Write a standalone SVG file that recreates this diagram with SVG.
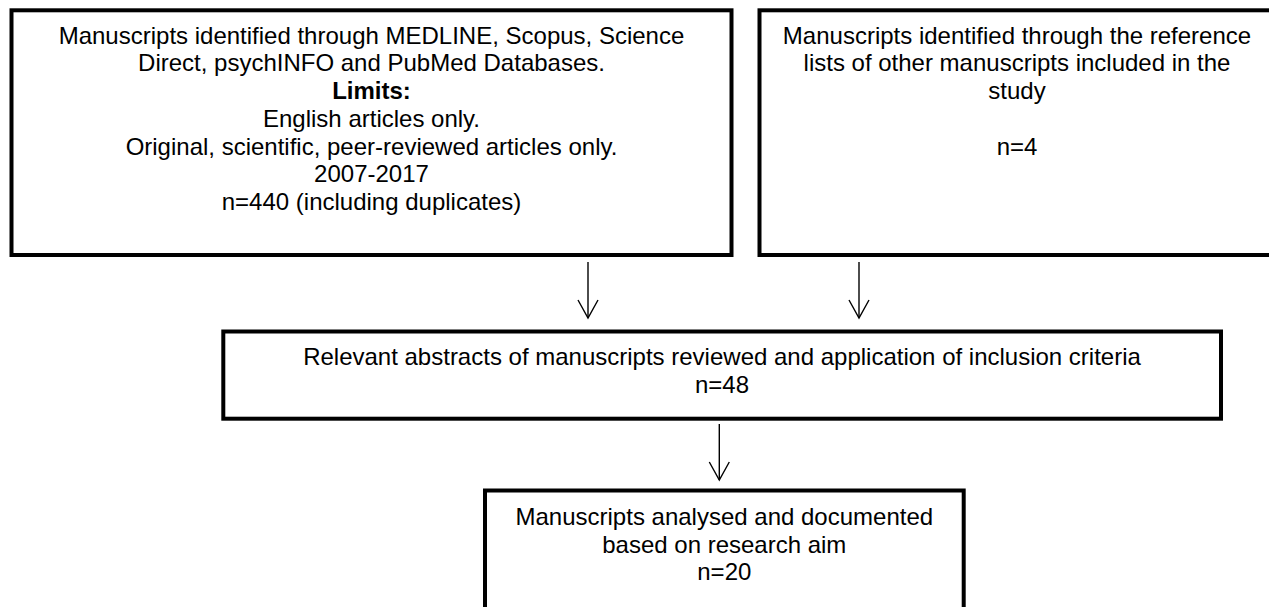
<svg xmlns="http://www.w3.org/2000/svg" width="1269" height="607" viewBox="0 0 1269 607">
  <defs>
    <marker id="vhead" markerUnits="userSpaceOnUse" markerWidth="22" markerHeight="24" viewBox="-20 -12 22 24" refX="0" refY="0" orient="auto" overflow="visible">
      <path d="M -18 -10 L 0 0 L -18 10" fill="none" stroke="#000" stroke-width="1.4" stroke-linejoin="miter"/>
    </marker>
    <style>
      .box { fill: #fff; stroke: #000; stroke-width: 4; }
      .t { font-family: "Liberation Sans", Arial, sans-serif; font-size: 24px; fill: #000; text-anchor: middle; }
      .b { font-weight: bold; }
      .conn { stroke: #000; stroke-width: 1.4; fill: none; marker-end: url(#vhead); }
    </style>
  </defs>
  <rect width="1269" height="607" fill="#fff"/>

  <g id="node-databases">
    <rect class="box" x="11.5" y="10.3" width="720" height="244.7"/>
    <text class="t" x="371.5" y="43.7">Manuscripts identified through MEDLINE, Scopus, Science</text>
    <text class="t" x="371.5" y="71.4">Direct, psychINFO and PubMed Databases.</text>
    <text class="t b" x="371.5" y="99.1">Limits:</text>
    <text class="t" x="371.5" y="126.8">English articles only.</text>
    <text class="t" x="371.5" y="154.5">Original, scientific, peer-reviewed articles only.</text>
    <text class="t" x="371.5" y="182.2">2007-2017</text>
    <text class="t" x="371.5" y="209.9">n=440 (including duplicates)</text>
  </g>

  <g id="node-reference-lists">
    <rect class="box" x="759.5" y="10.3" width="515" height="244.7"/>
    <text class="t" x="1017" y="43.7">Manuscripts identified through the reference</text>
    <text class="t" x="1017" y="71.4">lists of other manuscripts included in the</text>
    <text class="t" x="1017" y="99.1">study</text>
    <text class="t" x="1017" y="154.5">n=4</text>
  </g>

  <g id="node-abstracts">
    <rect class="box" x="223.3" y="331.5" width="997.7" height="87.2"/>
    <text class="t" x="722" y="365.2">Relevant abstracts of manuscripts reviewed and application of inclusion criteria</text>
    <text class="t" x="722" y="392.9">n=48</text>
  </g>

  <g id="node-analysed">
    <rect class="box" x="485" y="490.5" width="478.7" height="125"/>
    <text class="t" x="724.3" y="525">Manuscripts analysed and documented</text>
    <text class="t" x="724.3" y="552.7">based on research aim</text>
    <text class="t" x="724.3" y="580.4">n=20</text>
  </g>

  <g id="connectors">
    <line class="conn" x1="588" y1="262" x2="588" y2="318"/>
    <line class="conn" x1="859" y1="262" x2="859" y2="318"/>
    <line class="conn" x1="719.3" y1="424" x2="719.3" y2="480"/>
  </g>
</svg>
